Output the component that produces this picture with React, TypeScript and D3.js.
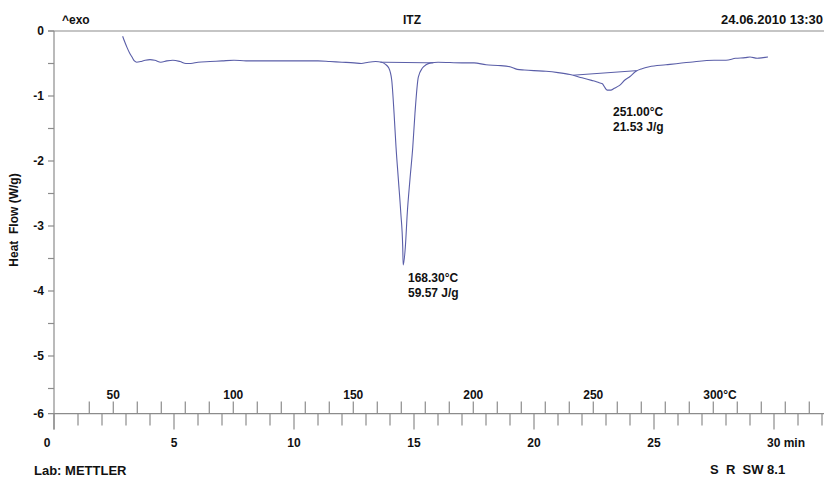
import React from "react";
import * as d3 from "d3";

// Heat flow curve: time (min) and heat flow (W/g)
const timeMin = [2.86, 2.95, 3.05, 3.15, 3.25, 3.35, 3.45, 3.6, 3.8, 4.0, 4.2, 4.45, 4.7, 4.95, 5.25, 5.5, 5.7, 6.0, 6.5, 7.0, 7.5, 8.0, 9.0, 10.0, 11.0, 11.5, 12.0, 12.5, 12.8, 13.1, 13.4, 13.65, 13.8, 13.95, 14.07, 14.17, 14.25, 14.35, 14.45, 14.53, 14.55, 14.64, 14.72, 14.83, 14.95, 15.04, 15.18, 15.35, 15.5, 15.7, 16.0, 17.0, 17.5, 18.0, 18.5, 19.0, 19.3, 19.6, 20.0, 20.5, 21.0, 21.5, 22.0, 22.4, 22.6, 22.75, 22.85, 22.92, 23.05, 23.2, 23.35, 23.55, 23.8, 24.0, 24.25, 24.5, 24.8, 25.5, 26.5, 27.5, 28.0, 28.4, 28.8, 29.0, 29.3, 29.55, 29.75];
const heatFlow = [-0.08, -0.17, -0.26, -0.34, -0.40, -0.46, -0.48, -0.47, -0.45, -0.44, -0.45, -0.48, -0.46, -0.45, -0.47, -0.50, -0.50, -0.48, -0.47, -0.46, -0.45, -0.46, -0.46, -0.46, -0.46, -0.47, -0.48, -0.49, -0.50, -0.48, -0.47, -0.48, -0.51, -0.57, -0.75, -1.27, -1.78, -2.29, -2.80, -3.32, -3.60, -3.32, -2.80, -2.29, -1.78, -1.27, -0.71, -0.57, -0.52, -0.49, -0.48, -0.49, -0.49, -0.52, -0.53, -0.55, -0.59, -0.60, -0.61, -0.62, -0.64, -0.67, -0.72, -0.76, -0.78, -0.80, -0.81, -0.85, -0.91, -0.91, -0.88, -0.84, -0.75, -0.70, -0.62, -0.58, -0.55, -0.52, -0.48, -0.45, -0.45, -0.42, -0.41, -0.40, -0.42, -0.41, -0.40];

// Integration baselines
const base1Time = [13.6, 15.8];
const base1Flow = [-0.48, -0.49];
const base2Time = [21.64, 24.28];
const base2Flow = [-0.68, -0.61];

// Axis ticks
const yMajor = [0, -1, -2, -3, -4, -5];
const yMinor = [-0.5, -1.5, -2.5, -3.5, -4.5, -5.5];
const timeLabels = [0, 5, 10, 15, 20, 25, 30];
const tempTicks = d3.range(40, 341, 10);
const tempLabels = [50, 100, 150, 200, 250, 300];
const tempOffset = 25.3; // °C at t = 0, 10 K/min

// Annotations
const peak1Text = ["168.30°C", "59.57 J/g"];
const peak2Text = ["251.00°C", "21.53 J/g"];

export default function App() {
  const W = 824, H = 477;
  const x = d3.scaleLinear().domain([0, 30]).range([54, 774]);
  const y = d3.scaleLinear().domain([0, -1]).range([31, 96]);
  const axisY = y(-5.885);
  const tOfT = (T: number) => (T - tempOffset) / 10;

  const pts = timeMin.map((t, i) => [t, heatFlow[i]] as [number, number]);
  const line = d3.line<[number, number]>().x(d => x(d[0])).y(d => y(d[1])).curve(d3.curveMonotoneX);
  const bl = d3.line<[number, number]>().x(d => x(d[0])).y(d => y(d[1]));

  const font = "'Liberation Sans', Arial, sans-serif";
  const axisColor = "#8c8c8c";
  const curveColor = "#5a5ea8";
  const minuteTicks = d3.range(0, 33, 1);
  const pre = { whiteSpace: "pre" as const };

  return (
    <svg width={W} height={H} style={{ position: "absolute", left: 0, top: 0, background: "#fff" }}
      fontFamily={font} fontWeight="bold" fontSize={12} fill="#111">
      {/* header */}
      <text x={62} y={24}>^exo</text>
      <text x={412} y={24} textAnchor="middle">ITZ</text>
      <text x={823} y={24} textAnchor="end" fontSize={13}>24.06.2010 13:30</text>

      {/* frame lines */}
      <line x1={48} x2={824} y1={y(0)} y2={y(0)} stroke={axisColor} strokeWidth={1.2} />
      <line x1={x(0)} x2={x(0)} y1={y(0)} y2={axisY + 16} stroke={axisColor} strokeWidth={1.2} />
      <line x1={48} x2={824} y1={axisY} y2={axisY} stroke={axisColor} strokeWidth={1.2} />

      {/* y ticks */}
      {yMajor.map(v => (
        <g key={"ym" + v}>
          <line x1={48} x2={x(0)} y1={y(v)} y2={y(v)} stroke={axisColor} strokeWidth={1.2} />
          <text x={44} y={y(v)} dy="0.35em" textAnchor="end">{v}</text>
        </g>
      ))}
      {yMinor.map(v => (
        <line key={"yn" + v} x1={48} x2={x(0)} y1={y(v)} y2={y(v)} stroke={axisColor} strokeWidth={1.2} />
      ))}
      <text x={44} y={axisY} dy="0.35em" textAnchor="end">-6</text>

      {/* y title */}
      <text transform={`translate(18,220) rotate(-90)`} textAnchor="middle" style={pre}>Heat  Flow (W/g)</text>

      {/* time ticks (down) */}
      {minuteTicks.map(t => (
        <line key={"tm" + t} x1={x(t)} x2={x(t)} y1={axisY} y2={axisY + (t % 5 === 0 ? 16 : 12)} stroke={axisColor} strokeWidth={1.2} />
      ))}
      {timeLabels.map(t => (
        t === 30 ? (
          <text key={"tl" + t} x={x(t) - 7} y={447}>30 min</text>
        ) : (
          <text key={"tl" + t} x={t === 0 ? x(t) - 7 : x(t)} y={447} textAnchor="middle">{t}</text>
        )
      ))}

      {/* temperature ticks (up) */}
      {tempTicks.map(T => (
        <line key={"tt" + T} x1={x(tOfT(T))} x2={x(tOfT(T))} y1={axisY} y2={axisY - 12} stroke={axisColor} strokeWidth={1.2} />
      ))}
      {tempLabels.map(T => (
        T === 300 ? (
          <text key={"tp" + T} x={x(tOfT(T)) - 10} y={398.5}>300°C</text>
        ) : (
          <text key={"tp" + T} x={x(tOfT(T))} y={398.5} textAnchor="middle">{T}</text>
        )
      ))}

      {/* baselines */}
      <path d={bl(base1Time.map((t, i) => [t, base1Flow[i]] as [number, number])) || ""} fill="none" stroke={curveColor} strokeWidth={1} />
      <path d={bl(base2Time.map((t, i) => [t, base2Flow[i]] as [number, number])) || ""} fill="none" stroke={curveColor} strokeWidth={1} />

      {/* curve */}
      <path d={line(pts) || ""} fill="none" stroke={curveColor} strokeWidth={1.1} />

      {/* annotations */}
      <text x={408} y={282}>{peak1Text[0]}</text>
      <text x={408} y={297}>{peak1Text[1]}</text>
      <text x={613} y={116}>{peak2Text[0]}</text>
      <text x={613} y={131}>{peak2Text[1]}</text>

      {/* footer */}
      <text x={34} y={475} fontSize={13}>Lab: METTLER</text>
      <text x={710} y={474} fontSize={13} style={pre}>S  R  SW 8.1</text>
    </svg>
  );
}
